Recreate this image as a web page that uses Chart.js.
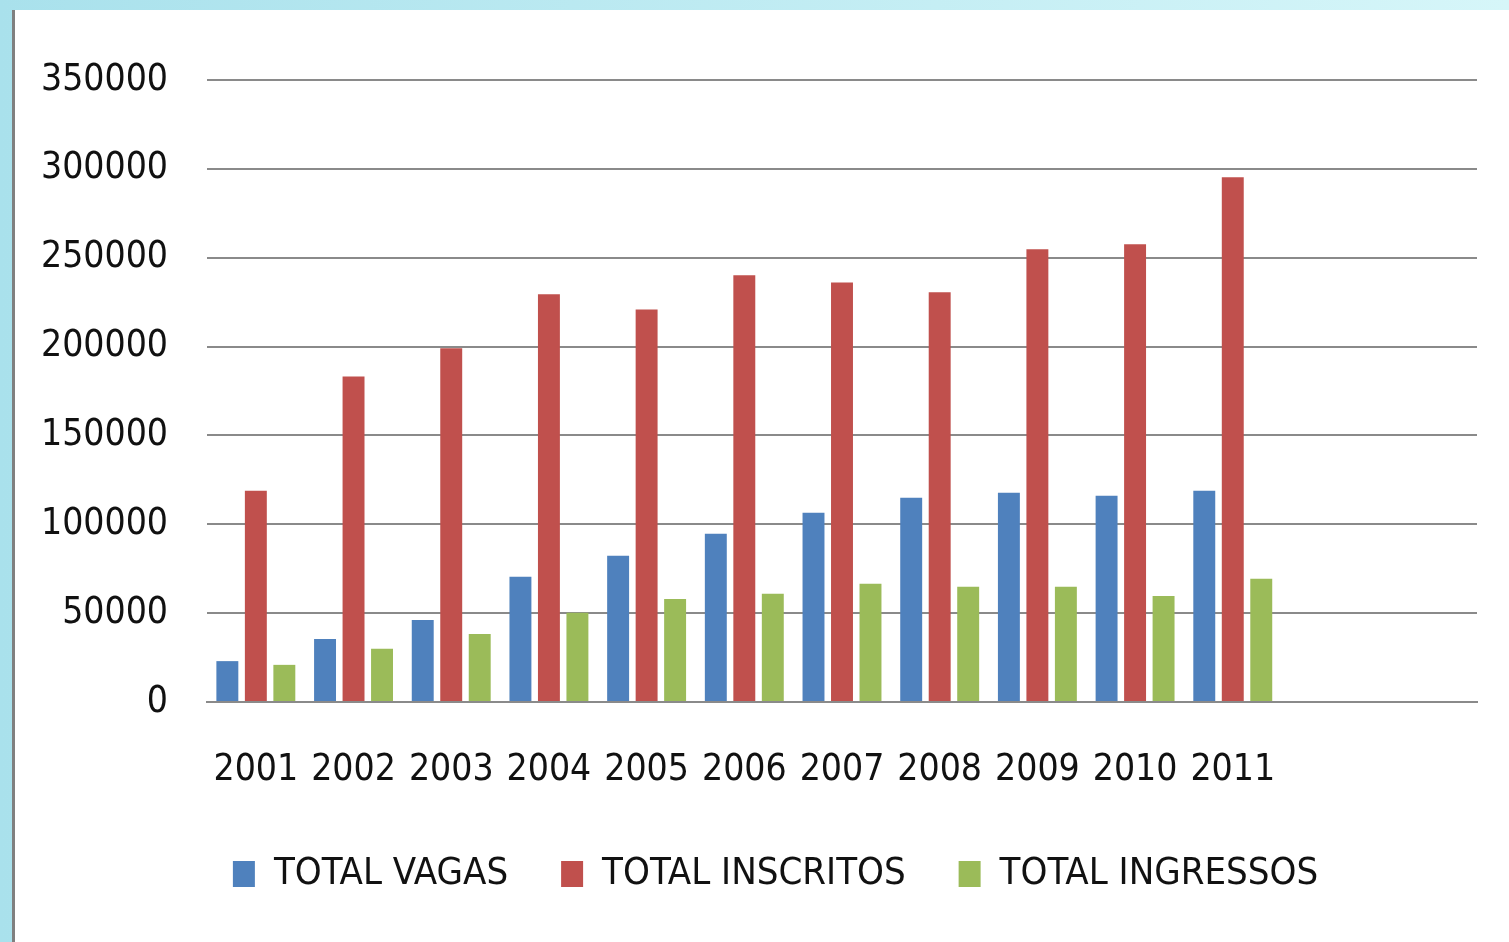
<!DOCTYPE html>
<html>
<head>
<meta charset="utf-8">
<script src="https://cdn.jsdelivr.net/npm/chart.js@4.4.1/dist/chart.umd.min.js"></script>
<style>
    html, body { margin: 0; padding: 0; }
    body {
        width: 1509px; height: 942px; overflow: hidden; position: relative;
        background: linear-gradient(to right, #a9e1ec, #d6f6f9);
    }
    #panel {
        position: absolute; left: 12px; top: 10px; right: 0; bottom: 0;
        background: #fff; border-left: 3px solid #808080;
    }
    #chart { position: absolute; left: 0; top: 0; }
</style>
</head>
<body>
<div id="panel"></div>
<canvas id="chart" width="1509" height="942"></canvas>
<script>
// Years on the x axis (two empty slots at the end, as in the original sheet)
const years = ['2001', '2002', '2003', '2004', '2005', '2006', '2007', '2008', '2009', '2010', '2011', '', ''];

// Series values
const totalVagas = [23000, 35500, 46200, 70500, 82300, 94700, 106500, 115000, 117800, 116100, 118900];
const totalInscritos = [118900, 183200, 199000, 229400, 220900, 240100, 236100, 230500, 254800, 257600, 295300];
const totalIngressos = [20900, 29900, 38300, 50200, 58000, 60900, 66500, 64800, 64800, 59700, 69300];

const seriesNames = ['TOTAL VAGAS', 'TOTAL INSCRITOS', 'TOTAL INGRESSOS'];
const yTicks = [0, 50000, 100000, 150000, 200000, 250000, 300000, 350000];

const FONT = "'DejaVu Sans Condensed', 'Liberation Sans Narrow', sans-serif";

// legend in the original sits a bit right of the canvas centre
const shiftLegend = {
    id: 'shiftLegend',
    afterLayout(chart) {
        if (!chart.legend) return;
        chart.legend.left += 37;
        chart.legend.right += 37;
    }
};

document.addEventListener('DOMContentLoaded', function() {
    initChart();
});

function initChart() {
    const ctx = document.getElementById('chart');
    if (!ctx) return;

    const barOpts = { barPercentage: 0.77, categoryPercentage: 0.875, borderWidth: 0 };

    new Chart(ctx, {
        type: 'bar',
        data: {
            labels: years,
            datasets: [
                Object.assign({ label: seriesNames[0], data: totalVagas, backgroundColor: '#4f81bd' }, barOpts),
                Object.assign({ label: seriesNames[1], data: totalInscritos, backgroundColor: '#c0504d' }, barOpts),
                Object.assign({ label: seriesNames[2], data: totalIngressos, backgroundColor: '#9bbb59' }, barOpts)
            ]
        },
        plugins: [shiftLegend],
        options: {
            responsive: false,
            animation: false,
            devicePixelRatio: 1,
            layout: {
                padding: { left: 0, right: 32, top: 80, bottom: 39 }
            },
            scales: {
                x: {
                    grid: { display: false, drawTicks: false },
                    border: { display: true, color: '#8a8a8a', width: 2 },
                    ticks: {
                        color: '#111',
                        font: { family: FONT, size: 37 },
                        padding: 46,
                        maxRotation: 0,
                        autoSkip: false
                    },
                    afterFit: function(scale) { scale.height = 100; }
                },
                y: {
                    min: 0,
                    max: 350000,
                    afterBuildTicks: function(scale) {
                        scale.ticks = yTicks.map(v => ({ value: v }));
                    },
                    grid: { color: '#8a8a8a', lineWidth: 2, drawTicks: false },
                    border: { display: false },
                    ticks: {
                        color: '#111',
                        font: { family: FONT, size: 37 },
                        padding: 39,
                        callback: function(value) { return String(value); }
                    },
                    afterFit: function(scale) { scale.width = 207; }
                }
            },
            plugins: {
                legend: {
                    position: 'bottom',
                    labels: {
                        color: '#111',
                        font: { family: FONT, size: 38 },
                        boxWidth: 22,
                        boxHeight: 26,
                        padding: 53
                    }
                },
                tooltip: { enabled: false }
            }
        }
    });
}
</script>
</body>
</html>
